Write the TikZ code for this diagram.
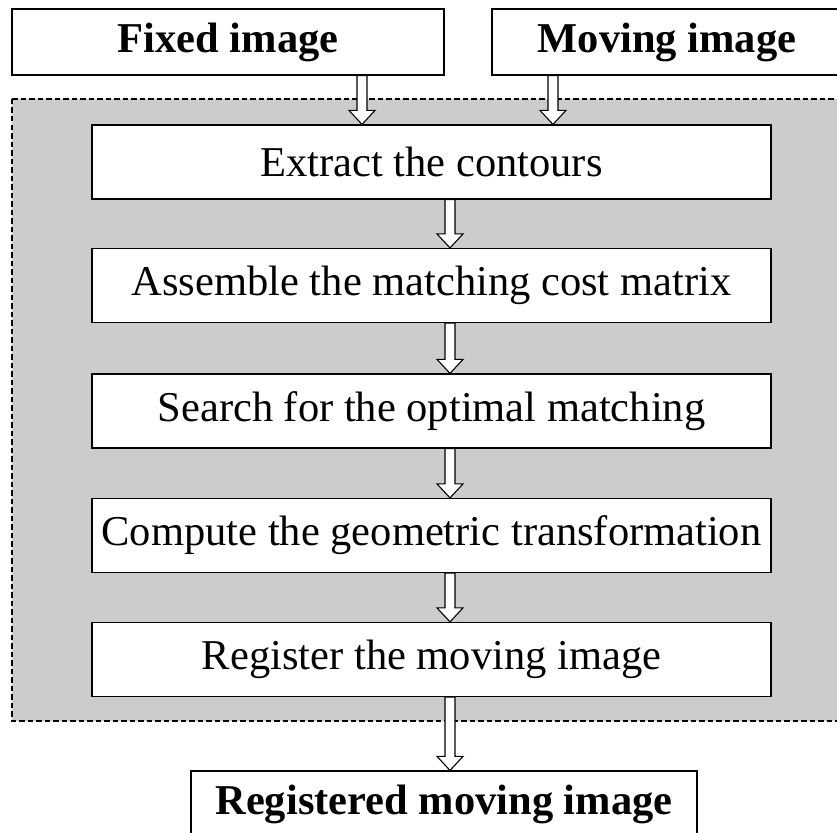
\documentclass[tikz,border=0pt]{standalone}
\usepackage{fontspec}
\setmainfont{Liberation Serif}
\usetikzlibrary{calc}
\definecolor{bggray}{RGB}{204,204,204}
\newcommand\blockarrow[3]{%
  \draw[barrowstyle]
    ($(#2.south -| #1,0)+(-5,0)$) -- ($(#3.north -| #1,0)+(-5,-14)$)
    -- ($(#3.north -| #1,0)+(-13,-14)$) -- (#3.north -| #1,0)
    -- ($(#3.north -| #1,0)+(13,-14)$) -- ($(#3.north -| #1,0)+(5,-14)$)
    -- ($(#2.south -| #1,0)+(5,0)$) -- cycle;}
\begin{document}
\begin{tikzpicture}[x=1pt,y=-1pt,
  box/.style={draw, line width=1.2pt, fill=white, inner sep=0pt,
    minimum height=74pt, minimum width=679pt, font=\fontsize{42.5}{48}\selectfont},
  topbox/.style={draw, line width=1.2pt, fill=white, inner sep=0pt,
    minimum height=66pt, font=\fontsize{42.5}{48}\selectfont\bfseries},
  barrowstyle/.style={draw, fill=white, line width=1.1pt, line join=miter},
  region/.style={draw, fill=bggray, line width=1.3pt, dash pattern=on 5.5pt off 3pt}]
\useasboundingbox (0,0) rectangle (837,832);
\clip (0,0) rectangle (837,832);
\draw[region] (12,99) rectangle (842,721);
\node[topbox, minimum width=432pt] (fixed) at (228,42) {Fixed image};
\node[topbox, minimum width=350pt] (moving) at (667,42) {Moving image};
\node[box] (extract) at (431.5,162) {Extract the contours};
\node[box] (assemble) at (431.5,285.5) {Assemble the matching cost matrix};
\node[box] (search) at (431.5,411) {Search for the optimal matching};
\node[box] (compute) at (431.5,535.5) {Compute the geometric transformation};
\node[box] (register) at (431.5,659.5) {Register the moving image};
\node[topbox, minimum width=506pt] (result) at (444,804) {Registered moving image};
\blockarrow{362}{fixed}{extract}
\blockarrow{553}{moving}{extract}
\blockarrow{450}{extract}{assemble}
\blockarrow{450}{assemble}{search}
\blockarrow{450}{search}{compute}
\blockarrow{450}{compute}{register}
\blockarrow{450}{register}{result}
\end{tikzpicture}
\end{document}
